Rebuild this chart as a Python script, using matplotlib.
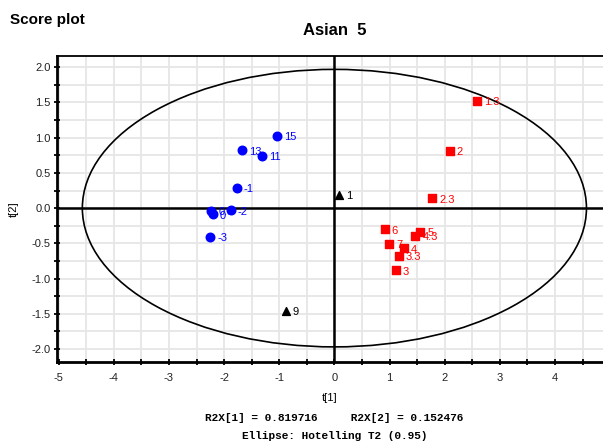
import numpy as np
import matplotlib.pyplot as plt
from matplotlib.patches import Ellipse
from matplotlib.ticker import MultipleLocator, FormatStrFormatter

plt.rcParams['font.family'] = ['Liberation Sans', 'DejaVu Sans']

# score values
blue_labels = ['15', '13', '11', '-1', '-2', '0.3', '0', '-3']
blue_t1 = [-1.04, -1.68, -1.31, -1.77, -1.88, -2.23, -2.20, -2.25]
blue_t2 = [1.03, 0.82, 0.74, 0.29, -0.03, -0.04, -0.09, -0.41]

red_labels = ['1.3', '2', '2.3', '6', '5', '4.3', '7', '4', '3.3', '3']
red_t1 = [2.58, 2.09, 1.77, 0.91, 1.56, 1.47, 0.99, 1.26, 1.17, 1.11]
red_t2 = [1.52, 0.81, 0.14, -0.30, -0.34, -0.39, -0.51, -0.57, -0.68, -0.88]

black_labels = ['1', '9']
black_t1 = [0.08, -0.88]
black_t2 = [0.19, -1.46]

ellipse_a = 4.57
ellipse_b = 1.97

fig = plt.figure(figsize=(6.03, 4.44), dpi=100)
ax = fig.add_axes([0.0945, 0.1854, 0.9055, 0.6885])

ax.set_xlim(-5.03, 4.87)
ax.set_ylim(-2.18, 2.16)

ax.xaxis.set_major_locator(MultipleLocator(1))
ax.xaxis.set_minor_locator(MultipleLocator(0.5))
ax.yaxis.set_major_locator(MultipleLocator(0.5))
ax.yaxis.set_minor_locator(MultipleLocator(0.25))
ax.yaxis.set_major_formatter(FormatStrFormatter('%.1f'))
ax.xaxis.set_major_formatter(FormatStrFormatter('%d'))

ax.grid(True, which='both', color='#e6e6e6', lw=1.3, zorder=0)
ax.set_axisbelow(True)

ax.tick_params(which='both', direction='inout', length=5, width=1.3, colors='black',
               labelsize=8, labelcolor='#222222')
ax.tick_params(axis='x', pad=6)
ax.tick_params(axis='y', pad=2)

for s in ['left', 'bottom']:
    ax.spines[s].set_linewidth(2)
ax.spines['top'].set_linewidth(1.3)
ax.spines['right'].set_visible(False)

ax.axhline(0, color='black', lw=1.8, zorder=2)
ax.axvline(0, color='black', lw=1.8, zorder=2)

ax.add_patch(Ellipse((0, 0), 2 * ellipse_a, 2 * ellipse_b, fill=False,
                     edgecolor='black', lw=1.2, zorder=2))

ax.scatter(blue_t1, blue_t2, marker='o', s=38, color='#0000ff', zorder=3)
ax.scatter(red_t1, red_t2, marker='s', s=34, color='#ff0000', zorder=3)
ax.scatter(black_t1, black_t2, marker='^', s=32, color='black', zorder=3)

for xs, ys, labs, c in [(blue_t1, blue_t2, blue_labels, '#0000ff'),
                        (red_t1, red_t2, red_labels, '#ff0000'),
                        (black_t1, black_t2, black_labels, 'black')]:
    for x, y, lab in zip(xs, ys, labs):
        ax.annotate(lab, (x, y), xytext=(5, -1), textcoords='offset points',
                    fontsize=8, color=c, va='center', ha='left', zorder=4)

ax.set_xlabel('t[1]', fontsize=8, labelpad=7)
ax.set_ylabel('t[2]', fontsize=8, labelpad=9)

fig.text(0.017, 0.955, 'Score plot', fontsize=11, fontweight='bold', ha='left', va='center')
fig.text(0.555, 0.932, 'Asian  5', fontsize=12, fontweight='bold', ha='center', va='center')

fig.text(0.555, 0.058, 'R2X[1] = 0.819716     R2X[2] = 0.152476', fontsize=8,
         fontweight='bold', family='Liberation Mono', ha='center', va='center')
fig.text(0.555, 0.017, 'Ellipse: Hotelling T2 (0.95)', fontsize=8,
         fontweight='bold', family='Liberation Mono', ha='center', va='center')

fig.savefig('out.png', dpi=100)
